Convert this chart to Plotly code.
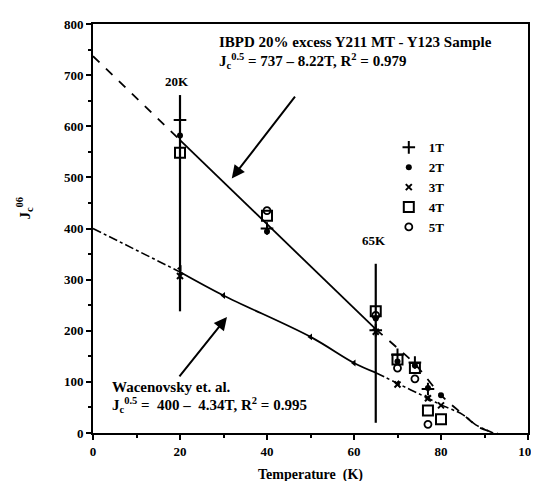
import plotly.graph_objects as go

# ---------------- data ----------------
# IBPD sample, measured points per field (Temperature K, Jc^0.5)
T_1T = [20, 40, 65, 70, 74, 77]
J_1T = [612, 400, 201, 153, 138, 86]
T_2T = [20, 40, 65, 70, 74, 77, 80]
J_2T = [582, 394, 224, 140, 132, 88, 74]
T_3T = [20, 65, 70, 77, 80]
J_3T = [307, 198, 95, 68, 54]
T_4T = [20, 40, 65, 70, 74, 77, 80]
J_4T = [548, 425, 238, 144, 127, 44, 27]
T_5T = [40, 65, 70, 74, 77]
J_5T = [435, 230, 127, 106, 17]

# IBPD fit (Jc^0.5 = 737 - 8.22T): solid part, extrapolation, and tail
ibpd_fit_T = [20, 65]
ibpd_fit_J = [573, 203]
ibpd_ext_T = [0, 20]
ibpd_ext_J = [737, 573]
ibpd_tail_T = [65, 70, 74, 80, 85, 89, 93]
ibpd_tail_J = [203, 166, 135, 74, 37, 10, 0]

# Wacenovsky et al. (Jc^0.5 = 400 - 4.34T)
wac_T = [20, 30, 50, 60, 65]
wac_J = [315, 269, 188, 137, 118]
wac_ext_T = [0, 20]
wac_ext_J = [400, 315]
wac_tail_T = [65, 70, 77, 80, 85, 88, 92]
wac_tail_J = [118, 97, 68, 55, 36, 16, 0]
wac_pts_T = [20, 30, 50, 60, 70, 77]
wac_pts_J = [322, 269, 188, 137, 97, 68]

# vertical markers at 20K and 65K
v20_T = [20, 20]
v20_J = [238, 661]
v65_T = [65, 65]
v65_J = [20, 331]

SERIF = "Liberation Serif"
fig = go.Figure()

line_style = dict(color="black", width=1.8)
fig.add_trace(go.Scatter(x=ibpd_fit_T, y=ibpd_fit_J, mode="lines", line=line_style, showlegend=False))
fig.add_trace(go.Scatter(x=ibpd_ext_T, y=ibpd_ext_J, mode="lines",
                         line=dict(color="black", width=1.8, dash="dash"), showlegend=False))
fig.add_trace(go.Scatter(x=ibpd_tail_T, y=ibpd_tail_J, mode="lines", line_shape="spline",
                         line=dict(color="black", width=1.8, dash="dash"), showlegend=False))
fig.add_trace(go.Scatter(x=wac_T, y=wac_J, mode="lines", line_shape="spline",
                         line=line_style, showlegend=False))
fig.add_trace(go.Scatter(x=wac_ext_T, y=wac_ext_J, mode="lines",
                         line=dict(color="black", width=1.6, dash="dashdot"), showlegend=False))
fig.add_trace(go.Scatter(x=wac_tail_T, y=wac_tail_J, mode="lines", line_shape="spline",
                         line=dict(color="black", width=1.6, dash="dashdot"), showlegend=False))
fig.add_trace(go.Scatter(x=wac_pts_T, y=wac_pts_J, mode="markers",
                         marker=dict(symbol="triangle-left", size=6, color="black"), showlegend=False))
fig.add_trace(go.Scatter(x=v20_T, y=v20_J, mode="lines", line=dict(color="black", width=2.2), showlegend=False))
fig.add_trace(go.Scatter(x=v65_T, y=v65_J, mode="lines", line=dict(color="black", width=2.2), showlegend=False))

fig.add_trace(go.Scatter(x=T_1T, y=J_1T, mode="markers", name="<b>1T</b>",
                         marker=dict(symbol="cross-thin", size=9, color="black",
                                     line=dict(color="black", width=2))))
fig.add_trace(go.Scatter(x=T_2T, y=J_2T, mode="markers", name="<b>2T</b>",
                         marker=dict(symbol="circle", size=6, color="black")))
fig.add_trace(go.Scatter(x=T_3T, y=J_3T, mode="markers", name="<b>3T</b>",
                         marker=dict(symbol="x-thin", size=6, color="black",
                                     line=dict(color="black", width=2))))
fig.add_trace(go.Scatter(x=T_4T, y=J_4T, mode="markers", name="<b>4T</b>",
                         marker=dict(symbol="square-open", size=10, color="black",
                                     line=dict(color="black", width=2))))
fig.add_trace(go.Scatter(x=T_5T, y=J_5T, mode="markers", name="<b>5T</b>",
                         marker=dict(symbol="circle-open", size=7, color="black",
                                     line=dict(color="black", width=1.8))))

ann_font = dict(family=SERIF, size=15, color="black")
annotations = [
    dict(x=28.5, y=765, text="<b>IBPD 20% excess Y211 MT - Y123 Sample</b>", xanchor="left"),
    dict(x=28.5, y=728, text="<b>J<sub>c</sub><sup>0.5</sup> = 737 \u2013 8.22T, R<sup>2</sup> = 0.979</b>", xanchor="left"),
    dict(x=19.3, y=688, text="<b>20K</b>", xanchor="center", font=dict(family=SERIF, size=13, color="black")),
    dict(x=64.7, y=377, text="<b>65K</b>", xanchor="center", font=dict(family=SERIF, size=13, color="black")),
    dict(x=3.8, y=90, text="<b>Wacenovsky et. al.</b>", xanchor="left"),
    dict(x=3.8, y=54, text="<b>J<sub>c</sub><sup>0.5</sup> =  400 \u2013  4.34T, R<sup>2</sup> = 0.995</b>", xanchor="left"),
]
for a in annotations:
    a.setdefault("font", ann_font)
    a.update(xref="x", yref="y", showarrow=False, yanchor="middle")

arrows = [
    dict(x=31.9, y=498, ax=46.7, ay=661),
    dict(x=30.8, y=227, ax=19.6, ay=108),
]
for a in arrows:
    a.update(xref="x", yref="y", axref="x", ayref="y", text="", showarrow=True,
             arrowhead=2, arrowsize=1.3, arrowwidth=2, arrowcolor="black")

annotations += arrows
annotations.append(dict(x=-0.185, y=0.55, xref="paper", yref="paper", textangle=-90,
                        text="<b>J<sub>c</sub><sup>06</sup></b>", showarrow=False,
                        font=dict(family=SERIF, size=15, color="black")))

fig.update_layout(
    width=539, height=481,
    margin=dict(l=85, r=9, t=15, b=50),
    paper_bgcolor="white", plot_bgcolor="white",
    font=dict(family=SERIF, size=13, color="black"),
    annotations=annotations,
    legend=dict(x=0.68, y=0.735, xanchor="left", yanchor="top",
                bgcolor="rgba(0,0,0,0)", borderwidth=0, tracegroupgap=0,
                font=dict(family=SERIF, size=13, color="black")),
    xaxis=dict(range=[0, 100], tickvals=[0, 20, 40, 60, 80, 100],
               ticktext=["<b>0</b>", "<b>20</b>", "<b>40</b>", "<b>60</b>", "<b>80</b>", "<b>100</b>"],
               showgrid=False, zeroline=False, showline=True, mirror=True,
               linecolor="black", linewidth=2, ticks="outside", ticklen=5, tickwidth=1.5,
               tickcolor="black",
               minor=dict(tickvals=[10, 30, 50, 70, 90], ticks="outside", ticklen=3, tickcolor="black"),
               title=dict(text="<b>Temperature  (K)</b>", font=dict(family=SERIF, size=14), standoff=12)),
    yaxis=dict(range=[0, 800], tickvals=[0, 100, 200, 300, 400, 500, 600, 700, 800],
               ticktext=["<b>%d</b>" % v for v in [0, 100, 200, 300, 400, 500, 600, 700, 800]],
               showgrid=False, zeroline=False, showline=True, mirror=True,
               linecolor="black", linewidth=2, ticks="outside", ticklen=5, tickwidth=1.5,
               tickcolor="black",
               minor=dict(tickvals=[50, 150, 250, 350, 450, 550, 650, 750], ticks="outside",
                          ticklen=3, tickcolor="black")),
)

fig.write_html("out.html")
